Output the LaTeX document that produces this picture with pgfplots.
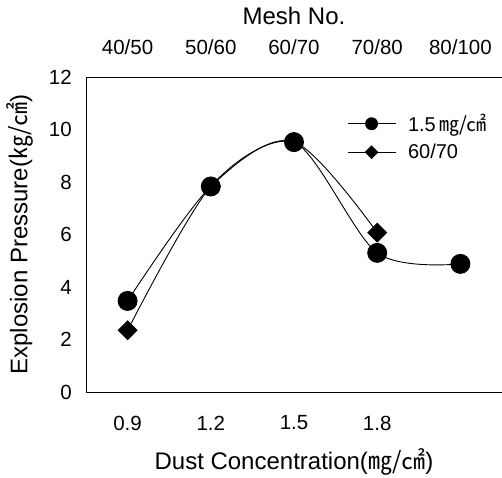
\documentclass[border=0pt]{standalone}
\usepackage{fontspec}
\setmainfont{Liberation Sans}
\newfontfamily\cjk{Noto Sans CJK KR}
\usepackage{pgfplots}
\pgfplotsset{compat=1.18}

\newcommand{\unitmg}{{\cjk ㎎/㎠}}
\newcommand{\unitkg}{{\cjk ㎏/㎠}}

\pgfplotsset{
  common/.style={
    at={(0,0)}, anchor=south west,
    scale only axis, width=416pt, height=315pt,
    xmin=-0.5, xmax=4.5, ymin=0, ymax=12,
    major tick length=0pt,
    tick label style={font=\fontsize{20.5}{24}\selectfont},
    label style={font=\fontsize{24}{28}\selectfont},
    /pgf/number format/assume math mode=true,
    clip=false,
  },
  % short line with the mark in its middle, then a gap before the text
  legmark/.style={
    legend image code/.code={
      \draw[##1, mark size=#1, mark repeat=2, mark phase=2]
        plot coordinates {(0pt,0pt) (24pt,0pt) (48pt,0pt)};
      \path (58pt,0pt);
    },
  },
}

\begin{document}
\begin{tikzpicture}
\useasboundingbox (-86pt,-85pt) rectangle (416pt,392pt);

% bottom axis: dust concentration
\begin{axis}[
  common,
  axis x line*=box, axis y line*=left,
  axis line style={-, line width=0.8pt},
  xtick={0,1,2,3}, xticklabels={0.9,1.2,1.5,1.8},
  xticklabel style={anchor=center, yshift=-31pt},
  ytick={0,2,...,12},
  yticklabel style={anchor=east, inner sep=0pt, xshift=-14pt},
  xlabel={Dust Concentration(\unitmg)},
  xlabel style={at={(axis description cs:0.5,-0.222)}, anchor=center},
  ylabel={Explosion Pressure(\unitkg)},
  ylabel style={at={(axis description cs:-0.159,0.5)}, anchor=center},
  legend style={draw=none, fill=none, at={(rel axis cs:0.62,0.895)},
    anchor=north west, row sep=7pt, font=\fontsize{20}{24}\selectfont},
  legend cell align=left,
]
  % mesh series at 1.5 mg/cm2 (top axis)
  \addplot[smooth, black, line width=0.9pt, mark=*, mark size=9.5pt,
    legmark=6pt]
    coordinates {(0,3.47) (1,7.83) (2,9.52) (3,5.30) (4,4.88)};
  \addlegendentry{1.5\,\unitmg}
  % concentration series at 60/70 mesh (bottom axis)
  \addplot[smooth, black, line width=0.9pt, mark=square*, mark size=6.6pt,
    mark options={rotate=45}, legmark=4.4pt]
    coordinates {(0,2.35) (1,7.83) (2,9.52) (3,6.07)};
  \addlegendentry{60/70}
\end{axis}

% top axis: mesh number
\begin{axis}[
  common,
  axis x line*=top, hide y axis,
  axis line style={draw=none},
  xtick={0,1,2,3,4}, xticklabels={40/50,50/60,60/70,70/80,80/100},
  xticklabel pos=top,
  xticklabel style={anchor=center, yshift=30pt},
  xlabel={Mesh No.},
  xlabel style={at={(axis description cs:0.5,1.194)}, anchor=center},
]
\end{axis}
\end{tikzpicture}
\end{document}
